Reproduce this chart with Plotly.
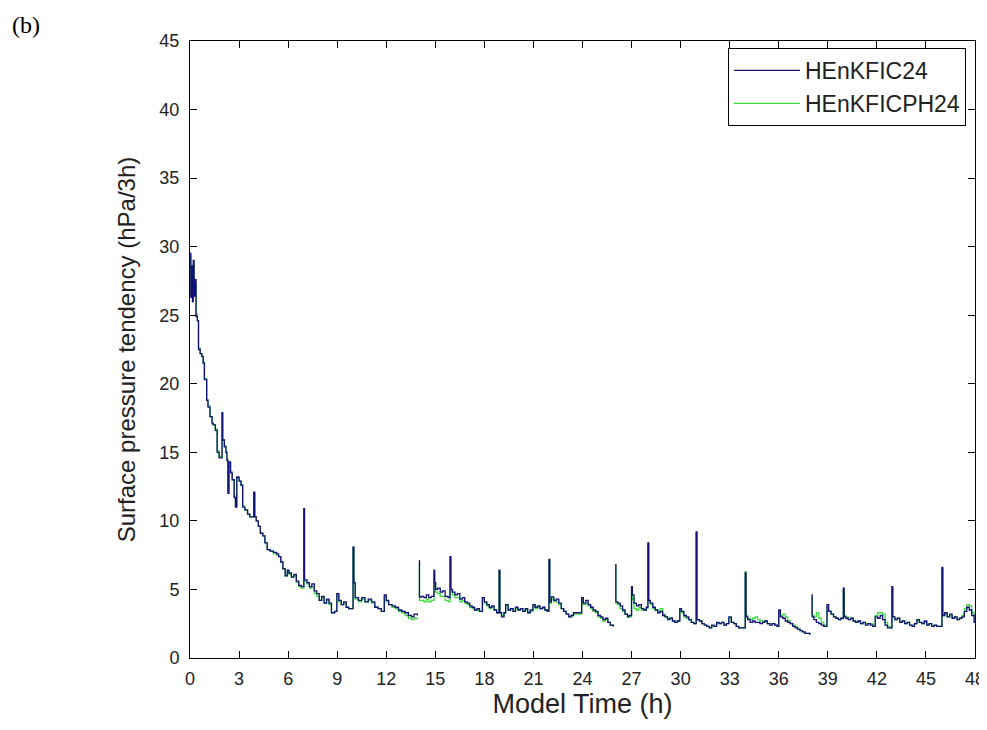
import plotly.graph_objects as go

# (time h, HEnKFIC24, HEnKFICPH24)
seg_0_14 = [
    (0.00, 29.5, 29.3), (0.05, 26.3, 26.6), (0.10, 28.6, 28.2), (0.15, 26.0, 26.3),
    (0.20, 29.0, 28.7), (0.25, 26.4, 26.7), (0.30, 27.6, 27.3), (0.37, 24.9, 25.1),
    (0.45, 24.6, 24.6), (0.52, 22.5, 22.6), (0.62, 22.2, 22.2), (0.72, 22.0, 22.0),
    (0.80, 21.5, 21.6), (0.88, 20.3, 20.4), (1.02, 18.8, 18.8), (1.10, 18.3, 18.4),
    (1.22, 17.6, 17.6), (1.35, 17.1, 17.2), (1.42, 17.0, 17.0), (1.55, 16.6, 16.7),
    (1.66, 15.0, 15.1), (1.78, 14.6, 14.7), (1.96, 17.9, 17.8), (2.00, 15.9, 15.9),
    (2.10, 15.4, 15.5), (2.20, 15.0, 15.0), (2.26, 14.4, 14.5), (2.32, 12.0, 12.2),
    (2.38, 14.3, 14.2), (2.48, 13.5, 13.6), (2.58, 13.0, 13.0), (2.70, 11.7, 11.8),
    (2.78, 11.0, 11.1), (2.86, 13.2, 13.1), (3.00, 12.9, 12.9), (3.12, 12.6, 12.6),
    (3.22, 11.0, 11.1), (3.35, 10.8, 10.8), (3.52, 10.5, 10.5), (3.66, 10.3, 10.3),
    (3.90, 12.1, 12.0), (3.96, 10.3, 10.3), (4.05, 10.0, 10.0), (4.18, 9.6, 9.6),
    (4.30, 9.1, 9.1), (4.45, 8.9, 8.9), (4.58, 8.4, 8.4), (4.72, 7.9, 7.9),
    (4.90, 7.8, 7.8), (5.10, 7.7, 7.6), (5.30, 7.6, 7.5), (5.42, 7.4, 7.4),
    (5.55, 7.0, 7.0), (5.68, 6.5, 6.5), (5.82, 6.0, 6.0), (5.95, 6.4, 6.3),
    (6.05, 6.2, 6.1), (6.20, 5.9, 5.9), (6.35, 6.1, 6.0), (6.50, 5.6, 5.5),
    (6.65, 5.3, 5.2), (6.80, 5.2, 5.1), (6.96, 10.9, 10.8), (7.00, 5.7, 5.6),
    (7.15, 5.5, 5.4), (7.30, 5.2, 5.1), (7.45, 5.4, 5.2), (7.60, 4.9, 4.7),
    (7.75, 4.7, 4.5), (7.90, 4.2, 4.2), (8.05, 4.5, 4.4), (8.20, 4.0, 4.0),
    (8.35, 4.3, 4.2), (8.50, 4.0, 3.9), (8.65, 3.3, 3.3), (8.85, 3.4, 3.4),
    (8.98, 4.7, 4.6), (9.10, 4.2, 4.1), (9.25, 3.9, 3.9), (9.40, 4.1, 4.0),
    (9.55, 3.7, 3.7), (9.70, 3.6, 3.6), (9.97, 8.1, 8.0), (10.02, 5.5, 5.4),
    (10.10, 4.4, 4.3), (10.30, 4.2, 4.1), (10.50, 4.4, 4.3), (10.70, 4.1, 4.1),
    (10.90, 4.3, 4.2), (11.10, 4.1, 4.0), (11.30, 3.7, 3.7), (11.50, 3.6, 3.6),
    (11.70, 3.4, 3.4), (11.88, 4.6, 4.5), (12.00, 4.2, 4.1), (12.15, 3.9, 3.9),
    (12.35, 3.8, 3.7), (12.55, 3.7, 3.6), (12.75, 3.5, 3.4), (12.95, 3.4, 3.3),
    (13.15, 3.3, 3.1), (13.35, 3.1, 2.9), (13.55, 3.0, 2.8), (13.70, 3.2, 2.9),
    (13.90, 3.1, 2.8),
]

seg_14_26 = [
    (14.00, 7.1, 7.0), (14.03, 4.45, 4.2), (14.15, 4.5, 4.2), (14.30, 4.4, 4.1),
    (14.45, 4.6, 4.3), (14.60, 4.4, 4.1), (14.75, 4.5, 4.2), (14.92, 6.4, 6.2),
    (14.96, 5.5, 5.2), (15.02, 5.0, 4.8), (15.15, 5.1, 4.7), (15.30, 4.8, 4.5),
    (15.45, 4.9, 4.5), (15.60, 4.5, 4.2), (15.78, 4.4, 4.1), (15.90, 7.4, 7.3),
    (15.95, 5.0, 4.8), (16.05, 4.8, 4.6), (16.20, 4.6, 4.4), (16.35, 4.7, 4.4),
    (16.50, 4.3, 4.1), (16.65, 4.4, 4.2), (16.80, 4.1, 4.0), (16.95, 4.0, 3.9),
    (17.10, 3.8, 3.7), (17.25, 3.7, 3.6), (17.40, 3.5, 3.5), (17.55, 3.6, 3.5),
    (17.70, 3.4, 3.4), (17.88, 4.4, 4.3), (18.00, 4.1, 4.0), (18.15, 3.9, 3.8),
    (18.30, 3.7, 3.6), (18.45, 3.8, 3.7), (18.60, 3.5, 3.5), (18.75, 3.3, 3.3),
    (18.90, 6.4, 6.3), (18.95, 3.3, 3.3), (19.05, 3.0, 3.1), (19.20, 3.3, 3.3),
    (19.30, 3.9, 3.8), (19.45, 3.5, 3.5), (19.60, 3.6, 3.6), (19.75, 3.4, 3.4),
    (19.90, 3.7, 3.6), (20.05, 3.5, 3.5), (20.20, 3.6, 3.6), (20.35, 3.4, 3.4),
    (20.50, 3.6, 3.5), (20.65, 3.3, 3.3), (20.80, 3.5, 3.4), (20.97, 3.9, 3.8),
    (21.10, 3.7, 3.6), (21.25, 3.8, 3.7), (21.40, 3.6, 3.6), (21.55, 3.7, 3.6),
    (21.70, 3.5, 3.5), (21.85, 3.4, 3.4), (21.95, 7.2, 7.1), (22.00, 4.1, 4.0),
    (22.10, 4.45, 4.3), (22.25, 4.2, 4.1), (22.40, 4.3, 4.1), (22.55, 4.0, 3.9),
    (22.70, 3.6, 3.6), (22.85, 3.4, 3.4), (23.00, 3.2, 3.2), (23.15, 3.0, 3.0),
    (23.30, 3.1, 3.1), (23.45, 3.3, 3.2), (23.60, 3.3, 3.2), (23.80, 3.3, 3.2),
    (23.95, 4.4, 4.3), (24.05, 4.0, 3.9), (24.20, 4.2, 4.0), (24.35, 3.9, 3.8),
    (24.50, 3.7, 3.6), (24.65, 3.5, 3.4), (24.80, 3.4, 3.3), (24.95, 3.1, 3.0),
    (25.10, 3.0, 2.9), (25.25, 2.8, 2.7), (25.40, 2.9, 2.8), (25.55, 2.6, 2.6),
    (25.70, 2.4, 2.4), (25.88, 2.3, 2.3),
]

seg_26_38 = [
    (26.00, 6.8, 6.7), (26.04, 4.1, 4.0), (26.15, 4.0, 3.9), (26.30, 3.8, 3.6),
    (26.45, 3.5, 3.4), (26.60, 3.2, 3.2), (26.75, 3.0, 3.0), (26.85, 3.1, 3.0),
    (27.00, 5.2, 5.1), (27.05, 4.6, 4.3), (27.15, 4.0, 3.6), (27.30, 3.8, 3.5),
    (27.45, 3.9, 3.7), (27.60, 3.6, 3.5), (27.75, 3.5, 3.5), (27.90, 3.7, 3.6),
    (28.00, 8.4, 8.3), (28.05, 4.2, 4.1), (28.15, 4.0, 3.9), (28.30, 3.7, 3.6),
    (28.45, 3.5, 3.5), (28.60, 3.3, 3.4), (28.75, 3.4, 3.6), (28.90, 3.1, 3.2),
    (29.05, 3.0, 3.0), (29.20, 2.8, 2.9), (29.35, 2.9, 2.9), (29.50, 2.7, 2.7),
    (29.65, 2.6, 2.6), (29.80, 2.7, 2.7), (29.95, 3.6, 3.5), (30.05, 3.4, 3.3),
    (30.20, 3.1, 3.0), (30.35, 3.0, 2.9), (30.50, 2.8, 2.8), (30.65, 2.6, 2.6),
    (30.80, 2.5, 2.5), (30.95, 9.2, 9.1), (31.00, 2.8, 2.8), (31.15, 2.7, 2.7),
    (31.30, 2.5, 2.5), (31.45, 2.4, 2.4), (31.60, 2.3, 2.3), (31.75, 2.2, 2.2),
    (31.90, 2.4, 2.3), (32.05, 2.3, 2.3), (32.20, 2.6, 2.5), (32.35, 2.5, 2.5),
    (32.50, 2.6, 2.6), (32.65, 2.4, 2.4), (32.80, 2.5, 2.5), (32.95, 3.0, 2.9),
    (33.10, 2.6, 2.6), (33.25, 2.5, 2.5), (33.40, 2.3, 2.3), (33.55, 2.2, 2.2),
    (33.70, 2.2, 2.2), (33.95, 6.2, 6.3), (34.00, 3.0, 3.1), (34.10, 2.8, 2.9),
    (34.25, 2.6, 2.8), (34.40, 2.7, 2.9), (34.55, 2.6, 3.0), (34.70, 2.6, 2.8),
    (34.85, 2.5, 2.7), (35.00, 2.6, 2.7), (35.15, 2.7, 2.7), (35.30, 2.5, 2.5),
    (35.45, 2.4, 2.5), (35.60, 2.5, 2.5), (35.75, 2.4, 2.4), (35.90, 2.3, 2.3),
    (36.00, 3.5, 3.4), (36.10, 3.0, 3.1), (36.25, 2.9, 3.2), (36.40, 2.7, 3.0),
    (36.55, 2.6, 2.7), (36.70, 2.5, 2.5), (36.85, 2.3, 2.4), (37.00, 2.2, 2.3),
    (37.15, 2.1, 2.1), (37.30, 2.0, 2.0), (37.45, 1.9, 1.9), (37.60, 1.8, 1.8),
    (37.75, 1.8, 1.8), (37.90, 1.7, 1.7),
]

seg_38_48 = [
    (38.00, 4.6, 4.5), (38.04, 3.0, 3.1), (38.15, 2.8, 3.0), (38.30, 2.6, 3.3),
    (38.45, 2.5, 2.9), (38.60, 2.4, 2.6), (38.75, 2.3, 2.4), (38.95, 3.9, 3.7),
    (39.05, 3.4, 3.4), (39.20, 3.2, 3.2), (39.35, 3.0, 3.0), (39.50, 2.9, 2.9),
    (39.65, 2.8, 2.8), (39.80, 2.9, 2.9), (39.95, 5.1, 5.0), (40.00, 3.0, 3.1),
    (40.10, 2.9, 3.0), (40.25, 2.8, 2.8), (40.40, 2.9, 2.9), (40.55, 2.7, 2.7),
    (40.70, 2.6, 2.6), (40.85, 2.7, 2.7), (41.00, 2.5, 2.5), (41.15, 2.6, 2.6),
    (41.30, 2.4, 2.5), (41.45, 2.5, 2.5), (41.60, 2.4, 2.5), (41.75, 2.3, 2.4),
    (41.90, 3.0, 3.1), (42.05, 2.9, 3.3), (42.20, 3.1, 3.3), (42.35, 2.8, 3.2),
    (42.50, 2.4, 2.6), (42.65, 2.2, 2.3), (42.80, 2.2, 2.2), (42.92, 5.2, 5.1),
    (42.97, 3.0, 3.0), (43.10, 2.8, 2.8), (43.25, 2.9, 2.9), (43.40, 2.6, 2.6),
    (43.55, 2.7, 2.7), (43.70, 2.5, 2.5), (43.85, 2.6, 2.6), (44.00, 2.4, 2.4),
    (44.15, 2.3, 2.4), (44.30, 2.5, 2.5), (44.45, 2.8, 2.7), (44.60, 2.6, 2.6),
    (44.75, 2.5, 2.5), (44.90, 2.7, 2.6), (45.05, 2.4, 2.4), (45.20, 2.5, 2.5),
    (45.35, 2.3, 2.3), (45.50, 2.4, 2.4), (45.65, 2.3, 2.3), (45.85, 2.3, 2.3),
    (45.98, 6.6, 6.5), (46.03, 3.1, 3.1), (46.15, 3.3, 3.2), (46.30, 3.0, 3.0),
    (46.45, 3.2, 3.1), (46.60, 2.9, 2.9), (46.75, 3.0, 3.0), (46.90, 2.8, 2.8),
    (47.05, 2.9, 2.9), (47.20, 3.0, 3.1), (47.35, 3.4, 3.6), (47.50, 3.7, 3.9),
    (47.65, 3.5, 3.8), (47.80, 3.1, 3.3), (47.95, 2.6, 2.8), (48.00, 2.7, 2.8),
]

segments = [seg_0_14, seg_14_26, seg_26_38, seg_38_48]
series_names = ["HEnKFIC24", "HEnKFICPH24"]
x_ticks = list(range(0, 49, 3))
y_ticks = list(range(0, 46, 5))

t_all, ic24, icph24 = [], [], []
for i, seg in enumerate(segments):
    if i > 0:
        t_all.append(None); ic24.append(None); icph24.append(None)
    for t, a, b in seg:
        t_all.append(t); ic24.append(a); icph24.append(b)

BLUE = "#101075"
GREEN = "#3ddc3d"
FONT = "Liberation Sans"

# page body has an 8px margin; figure is sized so it fits the window
W, H = 979, 722
L, R, T, B = 182, 12, 33, 72
PW, PH = W - L - R, H - T - B

fig = go.Figure()
fig.add_trace(go.Scatter(x=t_all, y=icph24, mode="lines", name=series_names[1],
                         line=dict(color=GREEN, width=1.3, shape="hv"),
                         connectgaps=False, legendrank=2))
fig.add_trace(go.Scatter(x=t_all, y=ic24, mode="lines", name=series_names[0],
                         line=dict(color=BLUE, width=1.3, shape="hv"),
                         connectgaps=False, legendrank=1))

axis_common = dict(showline=True, linecolor="black", linewidth=1, mirror="ticks",
                   ticks="inside", ticklen=7, tickcolor="black", tickwidth=1,
                   showgrid=False, zeroline=False, automargin=False,
                   tickfont=dict(family=FONT, size=18, color="#222"))

fig.update_xaxes(range=[0, 48], tickvals=x_ticks, ticktext=[str(v) for v in x_ticks],
                 title=dict(text="Model Time (h)", font=dict(family=FONT, size=27, color="#222"),
                            standoff=1),
                 ticklabelstandoff=4, **axis_common)
fig.update_yaxes(range=[0, 45], tickvals=y_ticks, ticktext=[str(v) for v in y_ticks],
                 title=dict(text="Surface pressure tendency (hPa/3h)",
                            font=dict(family=FONT, size=24, color="#222"), standoff=16),
                 ticklabelstandoff=6, **axis_common)

fig.update_layout(
    width=W, height=H,
    margin=dict(l=L, r=R, t=T, b=B),
    paper_bgcolor="white", plot_bgcolor="white",
    showlegend=True,
    legend=dict(x=(958 - L) / PW, y=(H - B - 40) / PH, xanchor="right", yanchor="top",
                bgcolor="white", bordercolor="black", borderwidth=1,
                font=dict(family=FONT, size=23, color="#222"),
                traceorder="normal", tracegroupgap=0, itemwidth=66),
    annotations=[dict(text="(b)", xref="paper", yref="paper",
                      x=(2 - L) / PW, y=(H - B - 2) / PH,
                      xanchor="left", yanchor="top", showarrow=False,
                      font=dict(family="Liberation Serif", size=24, color="black"))],
)

fig.write_html("out.html")
